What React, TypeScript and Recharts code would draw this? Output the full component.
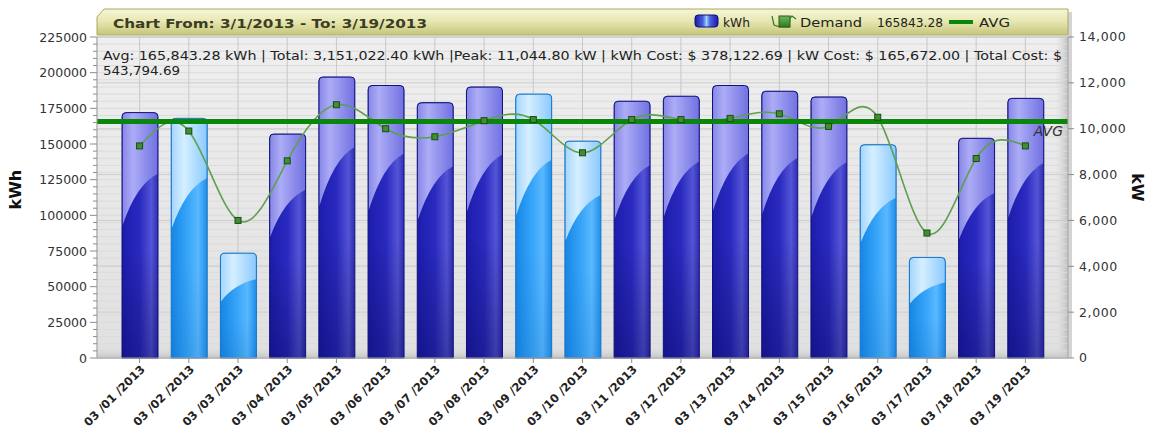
import React from "react";
import {
  ComposedChart,
  Bar,
  Line,
  XAxis,
  YAxis,
  CartesianGrid,
  ReferenceLine,
} from "recharts";

const dates = [
  "03 /01 /2013", "03 /02 /2013", "03 /03 /2013", "03 /04 /2013", "03 /05 /2013",
  "03 /06 /2013", "03 /07 /2013", "03 /08 /2013", "03 /09 /2013", "03 /10 /2013",
  "03 /11 /2013", "03 /12 /2013", "03 /13 /2013", "03 /14 /2013", "03 /15 /2013",
  "03 /16 /2013", "03 /17 /2013", "03 /18 /2013", "03 /19 /2013",
];

const kwh = [
  172000, 168000, 73500, 157000, 197000, 191000, 179000, 190000, 185000, 152000,
  180000, 183500, 191000, 187000, 183000, 149500, 70500, 154000, 182000,
];

const demand = [
  9250, 9900, 6000, 8600, 11045, 10000, 9650, 10350, 10400, 8950,
  10400, 10400, 10450, 10650, 10100, 10500, 5450, 8700, 9250,
];

const dayType = [
  "weekday", "weekend", "weekend", "weekday", "weekday", "weekday", "weekday",
  "weekday", "weekend", "weekend", "weekday", "weekday", "weekday", "weekday",
  "weekday", "weekend", "weekend", "weekday", "weekday",
];

const avgKwh = 165843.28;
const leftMajor = [0, 25000, 50000, 75000, 100000, 125000, 150000, 175000, 200000, 225000];
const leftAll = Array.from({ length: 46 }, (_, i) => i * 5000);
const rightTicks = [0, 2000, 4000, 6000, 8000, 10000, 12000, 14000];

const data = dates.map((d, i) => ({ date: d, kwh: kwh[i], demand: demand[i], day: dayType[i] }));

const font = "'DejaVu Sans', Verdana, sans-serif";

const GlassBar = (props: any) => {
  const { x, y, width: w, height: h, payload } = props;
  if (h == null || h <= 0) return null;
  const light = payload.day === "weekend";
  const r = Math.min(4, w / 2, h);
  const outline = `M${x},${y + h} L${x},${y + r} Q${x},${y} ${x + r},${y} L${x + w - r},${y} Q${x + w},${y} ${x + w},${y + r} L${x + w},${y + h} Z`;
  const yR = y + h * 0.25;
  const yL = y + h * 0.46;
  const hl = `M${x + 0.5},${yL} L${x + 0.5},${y + r} Q${x + 0.5},${y + 0.5} ${x + r},${y + 0.5} L${x + w - r},${y + 0.5} Q${x + w - 0.5},${y + 0.5} ${x + w - 0.5},${y + r} L${x + w - 0.5},${yR} Q${x + w * 0.4},${yR + (yL - yR) * 0.2} ${x + 0.5},${yL} Z`;
  return (
    <g>
      <path d={outline} fill={light ? "url(#lightBase)" : "url(#darkBase)"} />
      <path d={outline} fill={light ? "url(#lightShade)" : "url(#darkShade)"} />
      <path d={hl} fill={light ? "url(#lightHl)" : "url(#darkHl)"} />
      <path d={outline} fill="none" stroke={light ? "#1673c4" : "#11117a"} strokeWidth={1} />
    </g>
  );
};

const SquareDot = (props: any) => {
  const { cx, cy, index } = props;
  if (cx == null || cy == null) return null;
  return <rect key={index} x={cx - 3} y={cy - 3} width={6} height={6} fill="#3f8f2f" stroke="#1c4a18" strokeWidth={1} />;
};

const LeftTick = (props: any) => {
  const { x, y, payload } = props;
  const major = payload.value % 25000 === 0;
  return (
    <g>
      <line x1={x - (major ? 7 : 4)} x2={x} y1={y} y2={y} stroke="#8c8c8c" />
      {major && (
        <text x={x - 10} y={y} dy={4.5} textAnchor="end" fontSize={12.5} fill="#333" fontFamily={font}>
          {payload.value}
        </text>
      )}
    </g>
  );
};

const DateTick = (props: any) => {
  const { x, y, payload } = props;
  const tx = x + 6;
  const ty = y + 5;
  return (
    <text
      x={tx}
      y={ty}
      transform={`rotate(-45, ${tx}, ${ty})`}
      textAnchor="end"
      fontSize={11.5}
      fontWeight="bold"
      fill="#222"
      fontFamily={font}
    >
      {payload.value}
    </text>
  );
};

export default function App() {
  return (
    <div style={{ position: "absolute", left: 0, top: 0, width: 1150, height: 444, background: "#fff" }}>
      <svg width={1150} height={444} style={{ position: "absolute", left: 0, top: 0 }}>
        <defs>
          <linearGradient id="plotBg" x1="0" y1="0" x2="0" y2="1">
            <stop offset="0" stopColor="#efefef" />
            <stop offset="1" stopColor="#e0e0e0" />
          </linearGradient>
          <linearGradient id="wallR" x1="0" y1="0" x2="1" y2="0">
            <stop offset="0" stopColor="#e6e6e6" stopOpacity={0} />
            <stop offset="1" stopColor="#bdbdbd" />
          </linearGradient>
          <linearGradient id="floor" x1="0" y1="0" x2="0" y2="1">
            <stop offset="0" stopColor="#e0e0e0" stopOpacity={0} />
            <stop offset="1" stopColor="#c4c4c4" />
          </linearGradient>
        </defs>
        <rect x={97} y={36} width={971} height={322} fill="url(#plotBg)" />
        <rect x={1054} y={36} width={14} height={322} fill="url(#wallR)" />
        <rect x={97} y={346} width={971} height={12} fill="url(#floor)" />
        <rect x={1068} y={12} width={4} height={346} fill="#d4d4d4" />
      </svg>

      <div style={{ position: "absolute", left: 0, top: 0 }}>
        <ComposedChart
          width={1150}
          height={444}
          data={data}
          margin={{ top: 37, right: 0, bottom: 0, left: 0 }}
          barCategoryGap={0}
        >
          <defs>
            <linearGradient id="darkBase" x1="0" y1="0" x2="1" y2="0">
              <stop offset="0" stopColor="#1c1cac" />
              <stop offset="0.5" stopColor="#2a2ac0" />
              <stop offset="0.82" stopColor="#5454d6" />
              <stop offset="1" stopColor="#2e2eb6" />
            </linearGradient>
            <linearGradient id="darkShade" x1="0" y1="0" x2="0" y2="1">
              <stop offset="0" stopColor="#000030" stopOpacity={0} />
              <stop offset="0.55" stopColor="#000030" stopOpacity={0} />
              <stop offset="1" stopColor="#000040" stopOpacity={0.3} />
            </linearGradient>
            <linearGradient id="darkHl" x1="0" y1="0" x2="1" y2="0">
              <stop offset="0" stopColor="#8888e8" />
              <stop offset="0.3" stopColor="#acacf6" />
              <stop offset="1" stopColor="#7272e2" />
            </linearGradient>
            <linearGradient id="lightBase" x1="0" y1="0" x2="1" y2="0">
              <stop offset="0" stopColor="#1686e6" />
              <stop offset="0.45" stopColor="#36a4f8" />
              <stop offset="0.75" stopColor="#5ab8ff" />
              <stop offset="1" stopColor="#1e8eea" />
            </linearGradient>
            <linearGradient id="lightShade" x1="0" y1="0" x2="0" y2="1">
              <stop offset="0" stopColor="#0050a0" stopOpacity={0} />
              <stop offset="0.6" stopColor="#0050a0" stopOpacity={0} />
              <stop offset="1" stopColor="#0050a0" stopOpacity={0.15} />
            </linearGradient>
            <linearGradient id="lightHl" x1="0" y1="0" x2="1" y2="0">
              <stop offset="0" stopColor="#a4d6ff" />
              <stop offset="0.35" stopColor="#d6efff" />
              <stop offset="1" stopColor="#8ccaff" />
            </linearGradient>
          </defs>
          <CartesianGrid yAxisId="left" stroke="#dcdcdc" vertical={false} />
          <CartesianGrid yAxisId="major" stroke="#c6c6c6" vertical={false} />
          <CartesianGrid yAxisId="right" stroke="#cdcdcd" vertical={false} />
          <CartesianGrid yAxisId="right" stroke="#c8c8c8" horizontal={false} />
          <XAxis
            dataKey="date"
            interval={0}
            padding={{ left: 18, right: 18 }}
            height={86}
            tickSize={5}
            tickMargin={2}
            tickLine={{ stroke: "#8c8c8c" }}
            axisLine={{ stroke: "#a8a8a8" }}
            tick={<DateTick />}
          />
          <YAxis
            yAxisId="left"
            domain={[0, 225000]}
            ticks={leftAll}
            interval={0}
            width={97}
            tickSize={0}
            tickMargin={0}
            tickLine={false}
            axisLine={{ stroke: "#a8a8a8" }}
            tick={<LeftTick />}
            label={{
              value: "kWh",
              angle: -90,
              position: "insideLeft",
              offset: 15,
              dy: 12,
              fill: "#111",
              fontSize: 16,
              fontWeight: "bold",
              fontFamily: font,
            }}
          />
          <YAxis yAxisId="major" hide domain={[0, 225000]} ticks={leftMajor} />
          <YAxis
            yAxisId="right"
            orientation="right"
            domain={[0, 14000]}
            ticks={rightTicks}
            interval={0}
            width={82}
            tickSize={6}
            tickMargin={5}
            tickLine={{ stroke: "#8c8c8c" }}
            axisLine={{ stroke: "#a8a8a8" }}
            tick={{ fill: "#333", fontSize: 12.5, fontFamily: font, letterSpacing: 0.6 }}
            tickFormatter={(v: number) => v.toLocaleString("en-US")}
            label={{
              value: "kW",
              angle: 90,
              position: "insideRight",
              offset: 12,
              dy: 4,
              fill: "#111",
              fontSize: 16,
              fontWeight: "bold",
              fontFamily: font,
            }}
          />
          <Bar yAxisId="left" dataKey="kwh" barSize={36} shape={<GlassBar />} isAnimationActive={false} />
          <Line
            yAxisId="right"
            type="natural"
            dataKey="demand"
            stroke="#5f9f4f"
            strokeWidth={1.6}
            dot={<SquareDot />}
            activeDot={false}
            isAnimationActive={false}
          />
          <ReferenceLine
            yAxisId="left"
            y={avgKwh}
            stroke="#0a860a"
            strokeWidth={5}
            label={{
              value: "AVG",
              position: "insideTopRight",
              offset: 5,
              fill: "#333",
              fontSize: 14,
              fontStyle: "italic",
              fontFamily: font,
            }}
          />
        </ComposedChart>
      </div>

      <svg width={1150} height={444} style={{ position: "absolute", left: 0, top: 0, pointerEvents: "none" }}>
        <defs>
          <linearGradient id="hdr" x1="0" y1="0" x2="0" y2="1">
            <stop offset="0" stopColor="#f6f6d8" />
            <stop offset="0.45" stopColor="#e8e8b4" />
            <stop offset="1" stopColor="#c6c67a" />
          </linearGradient>
          <linearGradient id="legKwh" x1="0" y1="0" x2="1" y2="0">
            <stop offset="0" stopColor="#1a1aa8" />
            <stop offset="0.35" stopColor="#4b62e0" />
            <stop offset="0.5" stopColor="#9fd4ff" />
            <stop offset="0.65" stopColor="#4b62e0" />
            <stop offset="1" stopColor="#1a1aa8" />
          </linearGradient>
          <linearGradient id="legDem" x1="0" y1="0" x2="0" y2="1">
            <stop offset="0" stopColor="#6fb85a" />
            <stop offset="1" stopColor="#2f7a22" />
          </linearGradient>
        </defs>
        <path d="M97,35 L97,17 L104,9 L1068,9 L1068,35 Z" fill="url(#hdr)" stroke="#a8a860" strokeWidth={1} />
        <text x={113} y={28} fontFamily={font} fontWeight="bold" fontSize={13} fill="#3c3c22" textLength={314} lengthAdjust="spacingAndGlyphs">
          Chart From: 3/1/2013 - To: 3/19/2013
        </text>
        <rect x={695} y={15} width={23} height={12} rx={3} fill="url(#legKwh)" stroke="#10107a" />
        <text x={723} y={27} fontFamily={font} fontSize={13} fill="#222" textLength={27} lengthAdjust="spacingAndGlyphs">kWh</text>
        <path d="M772,16 L774,25 L780,27 L789,27 L790,18 L792,16 L796,19" fill="none" stroke="#2f7a22" strokeWidth={1.2} />
        <rect x={779} y={16} width={11} height={11} fill="url(#legDem)" stroke="#2a5a20" />
        <text x={800} y={27} fontFamily={font} fontSize={13} fill="#222" textLength={62} lengthAdjust="spacingAndGlyphs">Demand</text>
        <text x={877} y={27} fontFamily={font} fontSize={13} fill="#222" textLength={66} lengthAdjust="spacingAndGlyphs">165843.28</text>
        <line x1={949} x2={973} y1={22} y2={22} stroke="#0a860a" strokeWidth={4} />
        <text x={979} y={27} fontFamily={font} fontSize={13} fill="#222" textLength={31} lengthAdjust="spacingAndGlyphs">AVG</text>

        <text x={103} y={60} fontFamily={font} fontSize={13} fill="#222" textLength={959} lengthAdjust="spacingAndGlyphs">
          Avg: 165,843.28 kWh | Total: 3,151,022.40 kWh |Peak: 11,044.80 kW | kWh Cost: $ 378,122.69 | kW Cost: $ 165,672.00 | Total Cost: $
        </text>
        <text x={103} y={75} fontFamily={font} fontSize={13} fill="#222" textLength={77} lengthAdjust="spacingAndGlyphs">
          543,794.69
        </text>
      </svg>
    </div>
  );
}
